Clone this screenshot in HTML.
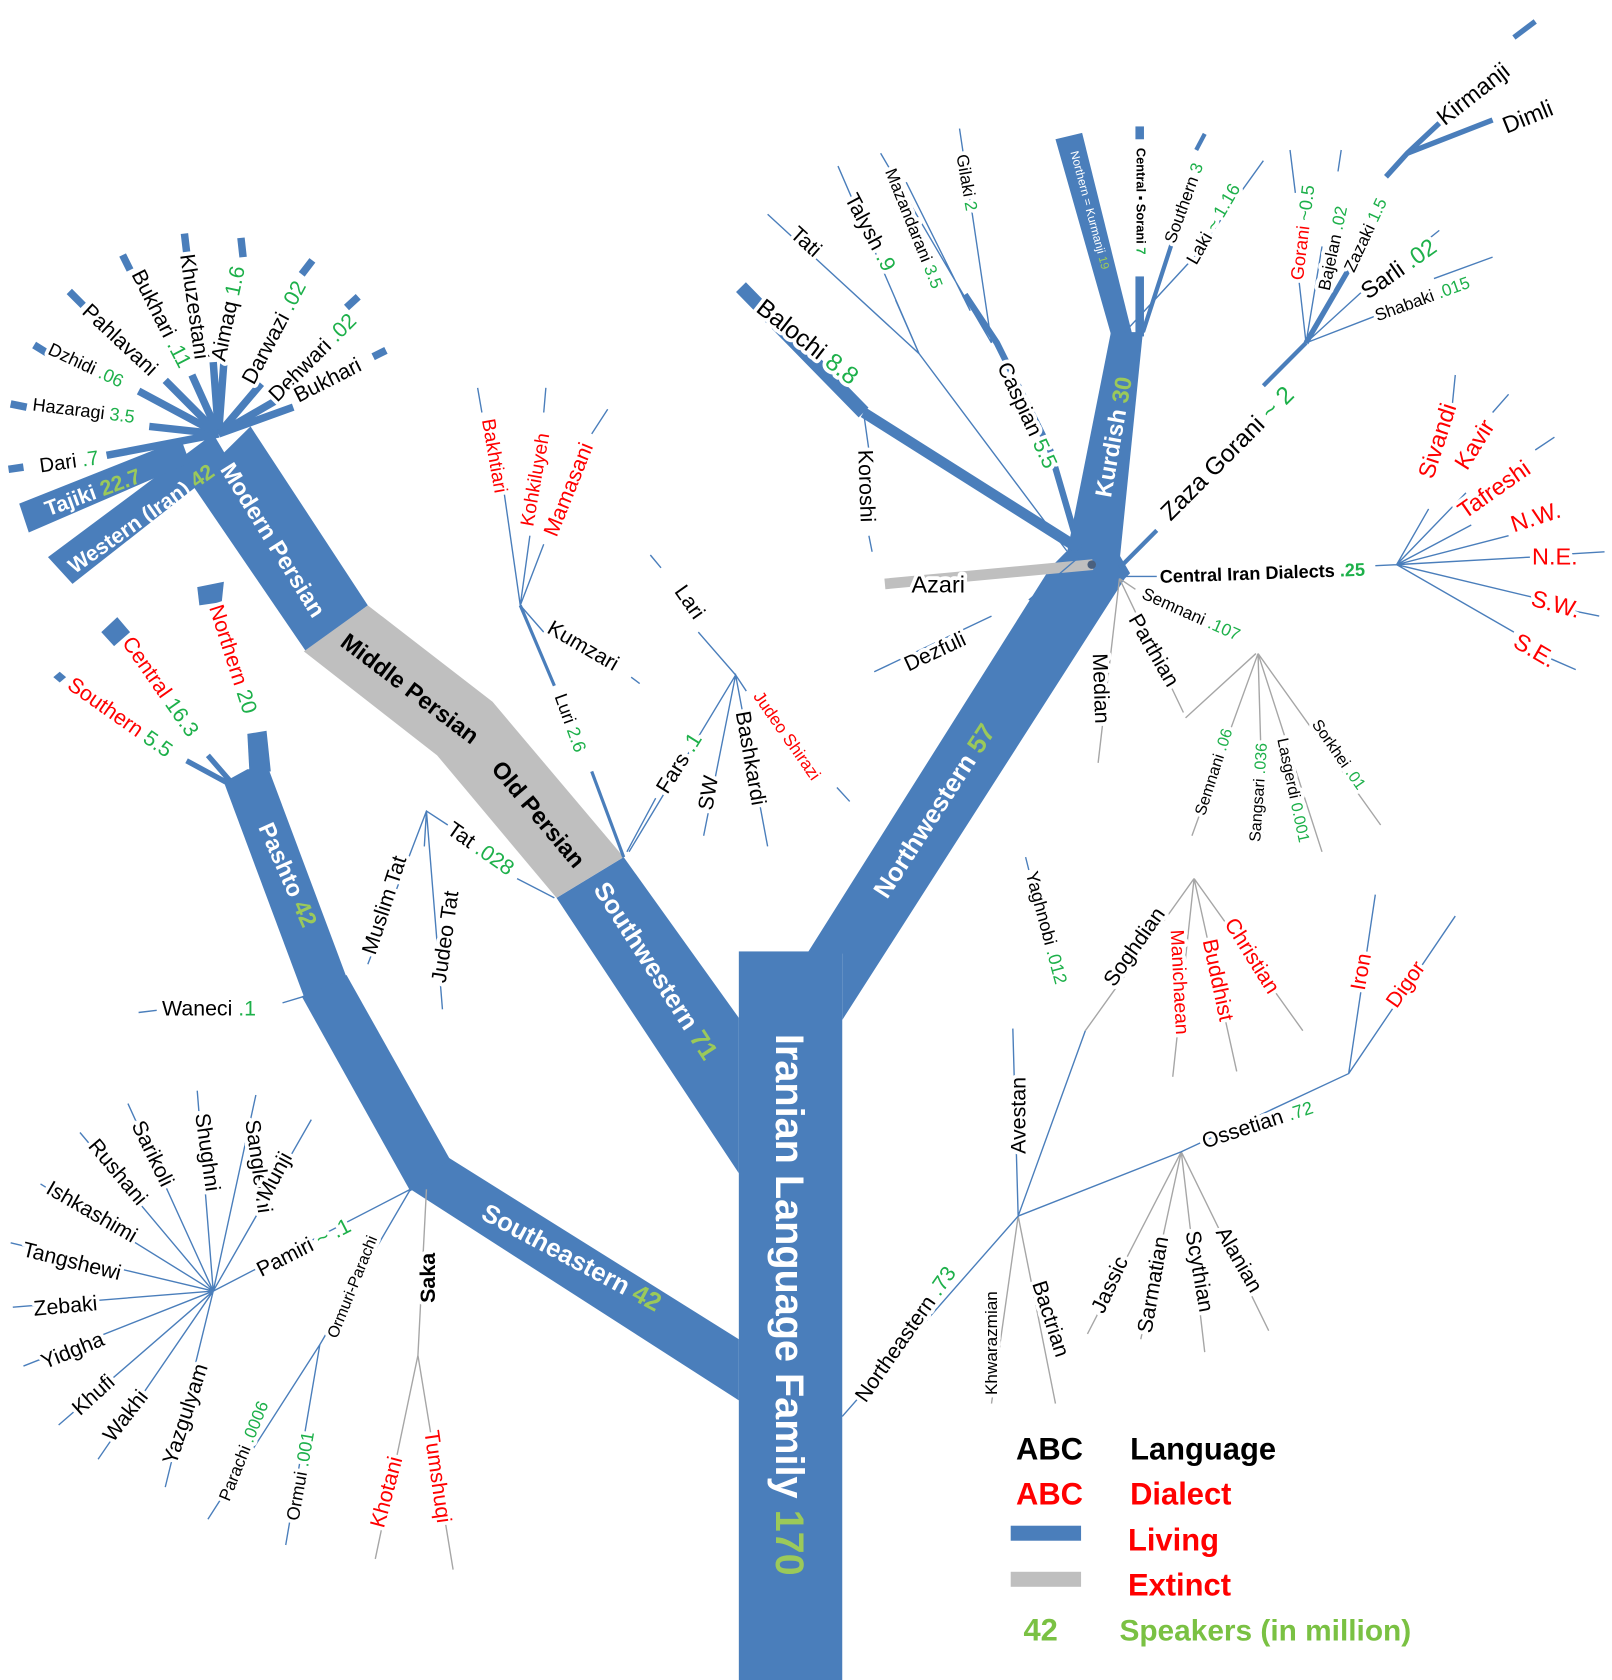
<!DOCTYPE html>
<html><head><meta charset="utf-8"><style>
html,body{margin:0;padding:0;background:#fff}
svg{display:block}
text{font-family:"Liberation Sans",sans-serif;fill:#000}
.h{paint-order:stroke;stroke:#fff;stroke-width:7px;stroke-linejoin:round}
.g{fill:#1db04a}.r{fill:#f00}.w{fill:#fff;font-weight:bold}.lg{fill:#9bc95a}
.b{font-weight:bold}
</style></head><body>
<svg width="1612" height="1680" viewBox="0 0 1512 1568" preserveAspectRatio="none" xmlns="http://www.w3.org/2000/svg" font-size="20">
<g fill="#4a7ebb" stroke="none">
<rect x="693" y="888" width="97" height="680"/>
<polygon points="757,890 790,890 790,952 1055,540 1060,535 1050,518 1000,515 985,530"/>
<polygon points="1000,520 1050,525 1072,310 1042,310"/>
<polygon points="1042,312 1062,312 1015,124 990,130"/>
<rect x="1065" y="118" width="8" height="12"/><rect x="1065" y="258" width="8" height="56"/>
<polygon points="693,950 693,1095 522,838 585,800"/>
<polygon points="345,565 287,608 180,452 235,398"/>
<polygon points="200,405 45,520 68,545 215,430"/>
<polygon points="170,410 18,470 27,497 178,432"/>
<polygon points="693,1250 693,1307 385,1110 420,1080"/>
<polygon points="385,1112 422,1082 325,910 283,930"/>
<polygon points="285,930 325,912 252,718 232,718 210,730"/>
<polygon points="232,685 250,682 254,720 234,722"/>
<polygon points="185,548 210,543 208,562 187,565"/>
<polygon points="95,590 110,576 122,590 107,603"/>
<polygon points="50,632 56,627 62,632 56,637"/>
</g>
<g stroke="#4a7ebb" stroke-width="5" fill="none">
<path d="M215,728 L195,705 M212,730 L175,710"/>
</g>
<polygon points="585,800 522,838 410,705 285,608 345,565 462,655" fill="#bfbfbf"/>
<g stroke="#4a7ebb" fill="none" stroke-linecap="butt">
<path d="M1012,512 L810,385" stroke-width="10"/>
<path d="M810,385 L695,268" stroke-width="13"/>
<path d="M1012,512 L985,420 L935,320 L905,275" stroke-width="6"/>
<path d="M1050,530 L1085,495" stroke-width="4"/>
<path d="M1185,360 L1225,320" stroke-width="4"/>
<path d="M1225,320 L1270,243" stroke-width="5"/>
<path d="M1300,165 L1320,143 L1350,115" stroke-width="5"/>
<path d="M1320,143 L1400,112" stroke-width="5"/>
<path d="M1420,35 L1440,20" stroke-width="5"/>
<path d="M1072,310 L1108,200" stroke-width="4"/><path d="M1122,140 L1130,125" stroke-width="4"/>
<path d="M488,565 L520,640" stroke-width="3"/><path d="M555,720 L585,800" stroke-width="3"/>
</g>
<path d="M830,545 L1025,527" stroke="#bfbfbf" stroke-width="10"/>
<circle cx="1024" cy="527" r="4" fill="#4a607e"/>
<g stroke="#4a7ebb" stroke-width="7" fill="none">
<path d="M205,405 L100,425 M8,438 L22,436"/>
<path d="M205,405 L140,398 M10,377 L25,380"/>
<path d="M205,405 L130,365 M32,322 L45,330"/>
<path d="M205,405 L155,355 M65,272 L78,285"/>
<path d="M205,405 L180,350 M115,238 L122,252"/>
<path d="M205,405 L200,338 M173,218 L175,235"/>
<path d="M205,405 L210,338 M226,222 L228,240"/>
<path d="M205,405 L245,358 M293,243 L283,256"/>
<path d="M205,405 L262,372 M336,277 L325,287"/>
<path d="M205,405 L275,380 M362,327 L350,333"/>
</g>
<g stroke="#4a7ebb" stroke-width="1.3" fill="none">
<path d="M1005,520 L862,330 L786,155 M862,330 L720,200 M862,330 L840,280"/>
<path d="M930,320 L900,120 M930,320 L826,143 M910,290 L850,170"/>
<path d="M1055,310 L1120,240 L1185,150"/>
<path d="M1225,320 L1215,232 M1215,180 L1210,140 M1225,320 L1240,230 M1255,160 L1258,140 M1225,320 L1280,270 M1225,320 L1290,295 M1345,260 L1400,240 M1335,227 L1350,215"/>
<path d="M1050,538 L1090,538 M1290,528 L1310,527 L1340,475 M1360,400 L1365,350 M1310,527 L1375,460 M1400,385 L1415,368 M1310,527 L1380,490 M1440,420 L1458,408 M1310,527 L1415,500 M1310,527 L1435,520 M1472,517 L1505,515 M1310,527 L1440,558 M1475,570 L1500,575 M1310,527 L1420,590 M1455,615 L1478,625"/>
<path d="M1012,520 L965,560 M930,575 L820,627"/>
<path d="M810,385 L815,420 M815,500 L818,515"/>
<path d="M488,565 L470,440 M452,385 L448,362 M488,565 L497,500 M510,385 L512,362 M488,565 L510,508 M555,405 L570,382 M488,565 L510,590 M592,632 L600,638"/>
<path d="M588,795 L615,745 M590,795 L690,630 L720,790 M690,630 L660,780 M690,630 L700,645 M785,735 L797,748 M690,630 L655,590 M620,530 L610,518"/>
<path d="M520,838 L485,820 M420,770 L400,757 L345,900 M400,757 L415,942 M400,757 L398,790"/>
<path d="M285,930 L265,936 M147,943 L130,945"/>
</g>
<g stroke="#a6a6a6" stroke-width="1.3" fill="none">
<path d="M1050,540 L1065,550 M1178,610 L1112,670 M1050,540 L1030,712 M1050,540 L1110,665"/>
<path d="M1180,610 L1118,780 M1180,610 L1185,780 M1180,610 L1240,795 M1180,610 L1295,770"/>
<path d="M1120,820 L1018,962 M1120,820 L1100,1005 M1120,820 L1160,1000 M1120,820 L1222,962"/>
<path d="M955,1135 L990,1310 M955,1135 L930,1310"/>
<path d="M1108,1075 L1020,1245 M1108,1075 L1070,1250 M1108,1075 L1130,1262 M1108,1075 L1190,1242"/>
<path d="M400,1110 L392,1265 L352,1455 M392,1265 L425,1465"/>
</g>
<g stroke="#4a7ebb" stroke-width="1.3" fill="none">
<path d="M1018,962 L955,1135 L950,960 M955,1135 L790,1322 M955,1135 L1108,1075 L1265,1002 L1290,835 M1265,1002 L1365,855"/>
<path d="M962,800 L965,812"/>
<path d="M385,1110 L300,1255 L268,1442 M300,1255 L195,1418 M385,1110 L200,1205"/>
<path d="M200,1205 L120,1030 M200,1205 L185,1018 M200,1205 L240,1022 M200,1205 L292,1045 M200,1205 L75,1057 M200,1205 L38,1105 M200,1205 L10,1160 M200,1205 L12,1220 M200,1205 L22,1275 M200,1205 L55,1330 M200,1205 L92,1362 M200,1205 L155,1388"/>
</g>
<g class="h">
<text transform="translate(38,441) rotate(-8)" font-size="19">Dari <tspan class="g">.7</tspan></text>
<text transform="translate(30,383) rotate(7)" font-size="17">Hazaragi <tspan class="g">3.5</tspan></text>
<text transform="translate(44,330) rotate(25)" font-size="17">Dzhidi <tspan class="g">.06</tspan></text>
<text transform="translate(76,292) rotate(43)">Pahlavani</text>
<text transform="translate(123,256) rotate(63)">Bukhari <tspan class="g">.11</tspan></text>
<text transform="translate(169,238) rotate(82)">Khuzestani</text>
<text transform="translate(211,338) rotate(-78)">Aimaq <tspan class="g">1.6</tspan></text>
<text transform="translate(238,360) rotate(-62)">Darwazi <tspan class="g">.02</tspan></text>
<text transform="translate(260,376) rotate(-45)">Dehwari <tspan class="g">.02</tspan></text>
<text transform="translate(280,376) rotate(-27)">Bukhari</text>

<text class="r" transform="translate(452,392) rotate(80)" font-size="18">Bakhtiari</text>
<text class="r" transform="translate(500,492) rotate(-80)" font-size="18">Kohkiluyeh</text>
<text class="r" transform="translate(522,502) rotate(-68)">Mamasani</text>
<text transform="translate(512,590) rotate(30)">Kumzari</text>
<text transform="translate(520,650) rotate(70)" font-size="17">Luri <tspan class="g">2.6</tspan></text>
<text transform="translate(632,552) rotate(55)">Lari</text>
<text transform="translate(626,742) rotate(-58)">Fars <tspan class="g">.1</tspan></text>
<text transform="translate(668,757) rotate(-80)">SW</text>
<text transform="translate(690,665) rotate(80)">Bashkardi</text>
<text class="r" transform="translate(706,650) rotate(55)" font-size="16">Judeo Shirazi</text>

<text transform="translate(418,777) rotate(35)">Tat <tspan class="g">.028</tspan></text>
<text transform="translate(352,892) rotate(-72)">Muslim Tat</text>
<text transform="translate(418,918) rotate(-82)">Judeo Tat</text>

<text transform="translate(152,948)">Waneci <tspan class="g">.1</tspan></text>
<text class="r" transform="translate(62,642) rotate(35)">Southern <tspan class="g">5.5</tspan></text>
<text class="r" transform="translate(114,600) rotate(55)">Central <tspan class="g">16.3</tspan></text>
<text class="r" transform="translate(196,567) rotate(72)">Northern <tspan class="g">20</tspan></text>

<text transform="translate(245,1192) rotate(-27)">Pamiri <tspan class="g">~ .1</tspan></text>
<text transform="translate(123,1050) rotate(64)">Sarikoli</text>
<text transform="translate(183,1040) rotate(82)">Shughni</text>
<text transform="translate(230,1046) rotate(82)">Sanglechi</text>
<text transform="translate(252,1122) rotate(-62)">Munji</text>
<text transform="translate(82,1070) rotate(50)">Rushani</text>
<text transform="translate(42,1113) rotate(30)">Ishkashimi</text>
<text transform="translate(20,1172) rotate(14)">Tangshewi</text>
<text transform="translate(32,1228) rotate(-5)">Zebaki</text>
<text transform="translate(42,1278) rotate(-22)">Yidgha</text>
<text transform="translate(75,1322) rotate(-42)">Khufi</text>
<text transform="translate(106,1347) rotate(-52)">Wakhi</text>
<text transform="translate(165,1368) rotate(-72)">Yazgulyam</text>
<text transform="translate(316,1250) rotate(-68)" font-size="15">Ormuri-Parachi</text>
<text transform="translate(215,1402) rotate(-68)" font-size="16">Parachi <tspan class="g">.0006</tspan></text>
<text transform="translate(280,1420) rotate(-80)" font-size="17">Ormui <tspan class="g">.001</tspan></text>
<text class="b" transform="translate(408,1216) rotate(-90)">Saka</text>
<text class="r" transform="translate(360,1427) rotate(-75)">Khotani</text>
<text class="r" transform="translate(398,1336) rotate(82)">Tumshuqi</text>

<text transform="translate(812,1310) rotate(-55)">Northeastern <tspan class="g">.73</tspan></text>
<text transform="translate(962,1077) rotate(-90)">Avestan</text>
<text transform="translate(962,815) rotate(75)" font-size="17">Yaghnobi <tspan class="g">.012</tspan></text>
<text transform="translate(1045,922) rotate(-55)">Soghdian</text>
<text class="r" transform="translate(1098,868) rotate(87)" font-size="18">Manichaean</text>
<text class="r" transform="translate(1128,878) rotate(78)">Buddhist</text>
<text class="r" transform="translate(1148,862) rotate(58)">Christian</text>
<text transform="translate(935,1302) rotate(-90)" font-size="16">Khwarazmian</text>
<text transform="translate(968,1198) rotate(72)">Bactrian</text>
<text transform="translate(1130,1072) rotate(-18)">Ossetian <tspan class="g" font-size="17">.72</tspan></text>
<text class="r" transform="translate(1280,925) rotate(-80)">Iron</text>
<text class="r" transform="translate(1310,942) rotate(-55)">Digor</text>
<text transform="translate(1035,1227) rotate(-65)">Jassic</text>
<text transform="translate(1080,1245) rotate(-80)">Sarmatian</text>
<text transform="translate(1112,1150) rotate(80)">Scythian</text>
<text transform="translate(1140,1150) rotate(60)">Alanian</text>

<text transform="translate(852,627) rotate(-25)">Dezfuli</text>
<text transform="translate(855,553)" font-size="22">Azari</text>
<text transform="translate(1088,544) rotate(-2)" font-size="17" font-weight="bold">Central Iran Dialects <tspan class="g">.25</tspan></text>
<text transform="translate(1070,558) rotate(24)" font-size="16">Semnani <tspan class="g">.107</tspan></text>
<text transform="translate(1058,578) rotate(60)">Parthian</text>
<text transform="translate(1025,610) rotate(88)">Median</text>
<text transform="translate(1130,762) rotate(-72)" font-size="15">Semnani <tspan class="g">.06</tspan></text>
<text transform="translate(1182,786) rotate(-86)" font-size="15">Sangsari <tspan class="g">.036</tspan></text>
<text transform="translate(1198,690) rotate(78)" font-size="15">Lasgerdi <tspan class="g">0.001</tspan></text>
<text transform="translate(1230,676) rotate(55)" font-size="15">Sorkhei <tspan class="g">.01</tspan></text>
<text class="r" transform="translate(1344,448) rotate(-72)" font-size="22">Sivandi</text>
<text class="r" transform="translate(1376,440) rotate(-58)" font-size="22">Kavir</text>
<text class="r" transform="translate(1374,485) rotate(-35)" font-size="22">Tafreshi</text>
<text class="r" transform="translate(1420,497) rotate(-18)" font-size="22">N.W.</text>
<text class="r" transform="translate(1437,527)" font-size="22">N.E.</text>
<text class="r" transform="translate(1435,565) rotate(15)" font-size="22">S.W.</text>
<text class="r" transform="translate(1418,603) rotate(30)" font-size="22">S.E.</text>

<text transform="translate(708,290) rotate(38)" font-size="23">Balochi <tspan class="g">8.8</tspan></text>
<text transform="translate(805,420) rotate(88)">Koroshi</text>
<text transform="translate(740,220) rotate(42)">Tati</text>
<text transform="translate(792,185) rotate(62)">Talysh <tspan class="g">.9</tspan></text>
<text transform="translate(830,160) rotate(68)" font-size="16">Mazandarani <tspan class="g">3.5</tspan></text>
<text transform="translate(897,145) rotate(80)" font-size="16">Gilaki <tspan class="g">2</tspan></text>
<text transform="translate(935,342) rotate(65)">Caspian <tspan class="g">5.5</tspan></text>
<text transform="translate(1102,228) rotate(-70)" font-size="16">Southern <tspan class="g">3</tspan></text>
<text transform="translate(1122,248) rotate(-60)" font-size="17">Laki <tspan class="g">~ 1.16</tspan></text>
<text transform="translate(1098,487) rotate(-45)" font-size="23">Zaza Gorani <tspan class="g">~ 2</tspan></text>
<text class="r" transform="translate(1222,262) rotate(-83)" font-size="17">Gorani <tspan class="g">~0.5</tspan></text>
<text transform="translate(1247,272) rotate(-78)" font-size="16">Bajelan <tspan class="g">.02</tspan></text>
<text transform="translate(1270,255) rotate(-65)" font-size="16">Zazaki <tspan class="g">1.5</tspan></text>
<text transform="translate(1283,280) rotate(-35)" font-size="22">Sarli <tspan class="g">.02</tspan></text>
<text transform="translate(1292,300) rotate(-20)" font-size="16">Shabaki <tspan class="g">.015</tspan></text>
<text transform="translate(1355,118) rotate(-38)" font-size="22">Kirmanji</text>
<text transform="translate(1413,125) rotate(-22)" font-size="22">Dimli</text>
</g>
<text transform="translate(1066,138) rotate(90)" font-size="12" font-weight="bold">Central ▪ Sorani <tspan class="g">7</tspan></text>
<text transform="translate(1004,142) rotate(75)" font-size="11" style="fill:#fff">Northern = Kurmanji <tspan class="lg">19</tspan></text>

<text class="w" transform="translate(1042,465) rotate(-80)" font-size="22">Kurdish <tspan class="lg">30</tspan></text>
<text class="w" transform="translate(832,840) rotate(-57)" font-size="24">Northwestern <tspan class="lg">57</tspan></text>
<text class="w" transform="translate(728,965) rotate(90)" font-size="37">Iranian Language Family <tspan class="lg">170</tspan></text>
<text class="w" transform="translate(556,830) rotate(57)" font-size="24">Southwestern <tspan class="lg">71</tspan></text>
<text class="b" transform="translate(318,602) rotate(37)" font-size="22">Middle Persian</text>
<text class="b" transform="translate(460,718) rotate(50)" font-size="22">Old Persian</text>
<text class="w" transform="translate(206,438) rotate(58)" font-size="22">Modern Persian</text>
<text class="w" transform="translate(70,536) rotate(-35)" font-size="20">Western (Iran) <tspan class="lg">42</tspan></text>
<text class="w" transform="translate(45,482) rotate(-20)" font-size="20">Tajiki <tspan class="lg">22.7</tspan></text>
<text class="w" transform="translate(242,772) rotate(66)" font-size="22">Pashto <tspan class="lg">42</tspan></text>
<text class="w" transform="translate(450,1137) rotate(28)" font-size="24">Southeastern <tspan class="lg">42</tspan></text>

<g font-weight="bold" font-size="29">
<text x="953" y="1362">ABC</text>
<text x="1060" y="1362">Language</text>
<text x="953" y="1404" class="r">ABC</text>
<text x="1060" y="1404" class="r">Dialect</text>
<text x="1058" y="1447" class="r">Living</text>
<text x="1058" y="1489" class="r">Extinct</text>
<text x="960" y="1531" style="fill:#7ac143">42</text>
<text x="1050" y="1531" style="fill:#7ac143" font-size="28">Speakers (in million)</text>
</g>
<rect x="948" y="1424" width="66" height="14" fill="#4a7ebb"/>
<rect x="948" y="1467" width="66" height="14" fill="#bfbfbf"/>
</svg>
</body></html>
